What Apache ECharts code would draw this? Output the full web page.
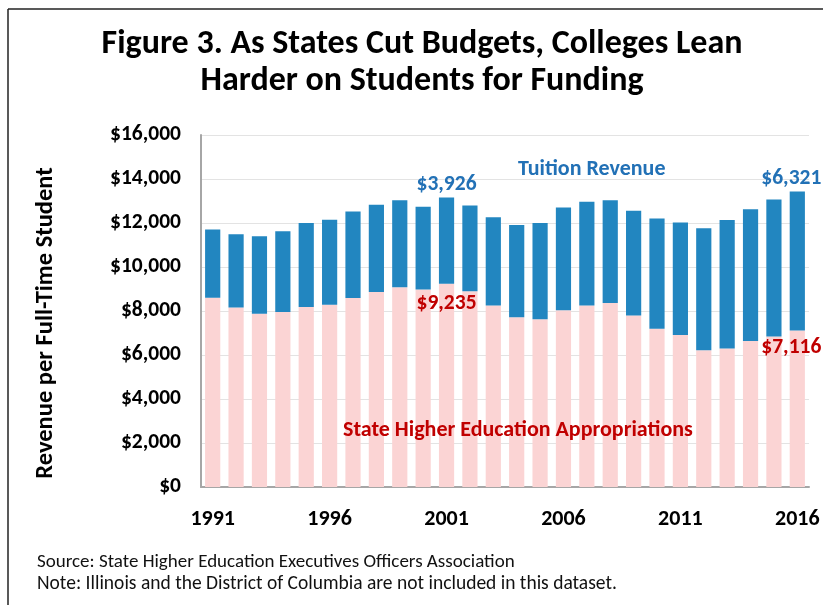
<!DOCTYPE html>
<html>
<head>
<meta charset="utf-8">
<script src="https://cdn.jsdelivr.net/npm/echarts@6/dist/echarts.min.js"></script>
<style>
  html, body { margin: 0; padding: 0; background: #fff; }
  #chart { width: 823px; height: 605px; }
</style>
</head>
<body>
<div id="chart"></div>
<script>
// Fiscal years shown on the category axis
const years = ['1991','1992','1993','1994','1995','1996','1997','1998','1999','2000',
               '2001','2002','2003','2004','2005','2006','2007','2008','2009','2010',
               '2011','2012','2013','2014','2015','2016'];

// State higher education appropriations per full-time student ($)
const stateAppropriations = [8600, 8160, 7880, 7950, 8180, 8280, 8590, 8860, 9080, 8980,
                             9235, 8900, 8250, 7720, 7620, 8030, 8250, 8360, 7800, 7190,
                             6910, 6220, 6290, 6640, 6840, 7116];

// Net tuition revenue per full-time student ($)
const tuitionRevenue = [3100, 3330, 3520, 3670, 3820, 3870, 3930, 3970, 3950, 3760,
                        3926, 3890, 4010, 4190, 4380, 4680, 4720, 4670, 4760, 5010,
                        5110, 5540, 5850, 5980, 6230, 6321];

// Years whose values are called out on the chart
const labelledYears = ['2001', '2016'];

const yTicks = { min: 0, max: 16000, interval: 2000 };

const FONT = 'Carlito, Lato, "Open Sans", sans-serif';
const BLUE = '#2286c0';
const PINK = '#fbd4d4';
const BLUE_TEXT = '#2271b6';
const RED_TEXT = '#c00000';

const money = v => '$' + Number(v).toLocaleString('en-US');

function withCallouts(values, labelFor) {
  return values.map((v, i) => {
    const y = years[i];
    if (!labelledYears.includes(y)) return v;
    return { value: v, label: labelFor(y) };
  });
}

const stateData = withCallouts(stateAppropriations, y => ({
  show: true,
  position: 'insideTop',
  distance: 9,
  offset: y === '2016' ? [-6, -3] : [0, 0],
  formatter: p => money(p.value),
  color: RED_TEXT,
  fontFamily: FONT,
  fontWeight: 'bold',
  fontSize: 21.5
}));

const tuitionData = withCallouts(tuitionRevenue, y => ({
  show: true,
  position: 'top',
  distance: 2,
  offset: y === '2016' ? [-6, 0] : [0, 0],
  formatter: p => money(p.value),
  color: BLUE_TEXT,
  fontFamily: FONT,
  fontWeight: 'bold',
  fontSize: 21.5
}));

const chart = echarts.init(document.getElementById('chart'), null, { renderer: 'canvas' });

chart.setOption({
  backgroundColor: '#ffffff',
  animation: false,
  title: {
    text: 'Figure 3. As States Cut Budgets, Colleges Lean\nHarder on Students for Funding',
    left: 417,
    top: 21,
    textAlign: 'center',
    textStyle: {
      fontFamily: FONT,
      fontWeight: 'bold',
      fontSize: 34,
      lineHeight: 37,
      color: '#000'
    }
  },
  grid: { left: 201, right: 14, top: 135, bottom: 118, containLabel: false },
  xAxis: {
    type: 'category',
    data: years,
    axisTick: { show: false },
    axisLine: { lineStyle: { color: '#a6a6a6', width: 2 } },
    axisLabel: {
      interval: 4,
      margin: 21,
      color: '#000',
      fontFamily: FONT,
      fontWeight: 'bold',
      fontSize: 22
    }
  },
  yAxis: {
    type: 'value',
    min: yTicks.min,
    max: yTicks.max,
    interval: yTicks.interval,
    axisLine: { show: true, lineStyle: { color: '#a6a6a6', width: 2 } },
    axisTick: { show: false },
    splitLine: { lineStyle: { color: '#e3e3e3', width: 1 } },
    axisLabel: {
      margin: 20,
      color: '#000',
      fontFamily: FONT,
      fontWeight: 'bold',
      fontSize: 21.5,
      formatter: v => money(v)
    }
  },
  series: [
    {
      name: 'State Higher Education Appropriations',
      type: 'bar',
      stack: 'revenue',
      barCategoryGap: '35%',
      itemStyle: { color: PINK },
      data: stateData
    },
    {
      name: 'Tuition Revenue',
      type: 'bar',
      stack: 'revenue',
      barCategoryGap: '35%',
      itemStyle: { color: BLUE },
      data: tuitionData
    }
  ],
  graphic: [
    // frame lines along the top and left edges
    { type: 'line', z: 100, shape: { x1: 8, y1: 9, x2: 823, y2: 9 }, style: { stroke: '#222', lineWidth: 1.5 } },
    { type: 'line', z: 100, shape: { x1: 8, y1: 9, x2: 8, y2: 605 }, style: { stroke: '#222', lineWidth: 1.5 } },
    // value-axis title, rotated to read bottom-to-top
    {
      type: 'text', z: 100, x: 46, y: 323, rotation: Math.PI / 2,
      style: {
        text: 'Revenue per Full-Time Student', fill: '#000',
        font: 'bold 24.5px ' + FONT, align: 'center', verticalAlign: 'middle'
      }
    },
    {
      type: 'text', z: 100, left: 518, top: 158,
      style: { text: 'Tuition Revenue', fill: BLUE_TEXT, font: 'bold 22px ' + FONT }
    },
    {
      type: 'text', z: 100, left: 343, top: 419,
      style: { text: 'State Higher Education Appropriations', fill: RED_TEXT, font: 'bold 22px ' + FONT }
    },
    {
      type: 'text', z: 100, left: 37, top: 553,
      style: { text: 'Source: State Higher Education Executives Officers Association', fill: '#111', font: '19px ' + FONT }
    },
    {
      type: 'text', z: 100, left: 37, top: 574,
      style: { text: 'Note: Illinois and the District of Columbia are not included in this dataset.', fill: '#111', font: '19.5px ' + FONT }
    }
  ]
});
</script>
</body>
</html>
